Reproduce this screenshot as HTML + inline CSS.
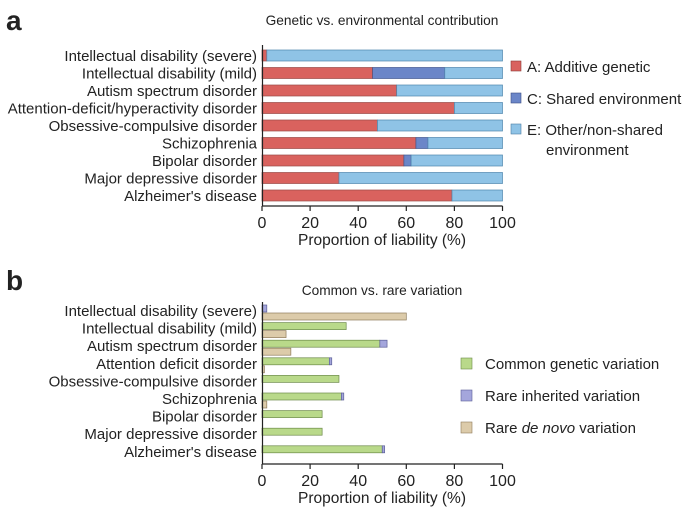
<!DOCTYPE html>
<html><head><meta charset="utf-8"><style>
body{margin:0;background:#fff}
svg text{font-family:"Liberation Sans",Arial,sans-serif;fill:#222}
</style></head><body>
<svg id="c" width="685" height="514" xmlns="http://www.w3.org/2000/svg">
<text x="6" y="30" font-size="28" font-weight="bold">a</text>
<text x="382" y="25" font-size="13.7" text-anchor="middle">Genetic vs. environmental contribution</text>
<text x="6" y="290" font-size="28" font-weight="bold">b</text>
<text x="382" y="295" font-size="13.7" text-anchor="middle">Common vs. rare variation</text>
<g id="ga"></g><g id="gb"></g>
<g>
<rect x="511" y="61" width="10" height="10" fill="#d9625e" stroke="#8a3a38" stroke-width="0.6"/>
<text x="527" y="72" font-size="15">A: Additive genetic</text>
<rect x="511" y="93" width="10" height="10" fill="#6b86c8" stroke="#3c4f85" stroke-width="0.6"/>
<text x="527" y="104" font-size="15">C: Shared environment</text>
<rect x="511" y="124" width="10" height="10" fill="#8fc3e6" stroke="#4d7fa3" stroke-width="0.6"/>
<text x="527" y="135" font-size="15">E: Other/non-shared</text>
<text x="546" y="155" font-size="15">environment</text>
</g>
<g>
<rect x="461" y="358" width="11" height="11" fill="#b9d98a" stroke="#6d8a4a" stroke-width="0.6"/>
<text x="485" y="369" font-size="15">Common genetic variation</text>
<rect x="461" y="390" width="11" height="11" fill="#a4a6dc" stroke="#5d6098" stroke-width="0.6"/>
<text x="485" y="401" font-size="15">Rare inherited variation</text>
<rect x="461" y="422" width="11" height="11" fill="#dccbaa" stroke="#8f7c5c" stroke-width="0.6"/>
<text x="485" y="433" font-size="15">Rare <tspan font-style="italic">de novo</tspan> variation</text>
</g>
</svg>
<script>
const catsA=["Intellectual disability (severe)","Intellectual disability (mild)","Autism spectrum disorder","Attention-deficit/hyperactivity disorder","Obsessive-compulsive disorder","Schizophrenia","Bipolar disorder","Major depressive disorder","Alzheimer's disease"];
const addA=[2,46,56,80,48,64,59,32,79];
const sharedA=[0,30,0,0,0,5,3,0,0];
const catsB=["Intellectual disability (severe)","Intellectual disability (mild)","Autism spectrum disorder","Attention deficit disorder","Obsessive-compulsive disorder","Schizophrenia","Bipolar disorder","Major depressive disorder","Alzheimer's disease"];
const commonB=[0,35,49,28,32,33,25,25,50];
const inheritedB=[2,0,3,1,0,1,0,0,1];
const denovoB=[60,10,12,1,0,2,0,0,0];
const ticks=[0,20,40,60,80,100];
const NS="http://www.w3.org/2000/svg";
function mk(p,t,a){const e=document.createElementNS(NS,t);for(const k in a)e.setAttribute(k,a[k]);p.appendChild(e);return e;}
const x=v=>262+v*2.405;
function axis(g,yAx,top,name){
 const l=mk(g,"line",{x1:262.5,y1:top,x2:262.5,y2:yAx,stroke:"#222","stroke-width":1.2});
 
 
 const a=mk(g,"line",{x1:262,y1:yAx,x2:x(100),y2:yAx,stroke:"#222","stroke-width":1.2});
 
 
 ticks.forEach(t=>{
  mk(g,"line",{x1:x(t),y1:yAx,x2:x(t),y2:yAx+5,stroke:"#222","stroke-width":1.2});
  const tx=mk(g,"text",{x:x(t),y:yAx+22,"font-size":16,"text-anchor":"middle"});tx.textContent=t;
  
  
 });
 const tt=mk(g,"text",{x:382,y:yAx+39,"font-size":15.5,"text-anchor":"middle"});tt.textContent="Proportion of liability (%)";
 
 
}
function bar(g,v0,v1,y,h,fill,st,name){
 if(v1-v0<=0)return;
 const r=mk(g,"rect",{x:x(v0),y:y,width:x(v1)-x(v0),height:h,fill:fill,stroke:st,"stroke-width":0.7});
 
 
}
const ga=document.getElementById("ga");
catsA.forEach((c,i)=>{
 const y=50+i*17.5;
 const t=mk(ga,"text",{x:257,y:y+11,"font-size":15,"text-anchor":"end"});t.textContent=c;
 
 
 bar(ga,0,addA[i],y,11,"#d9625e","#9a4a47","bar-additive");
 bar(ga,addA[i],addA[i]+sharedA[i],y,11,"#6b86c8","#42578f","bar-shared");
 bar(ga,addA[i]+sharedA[i],100,y,11,"#8fc3e6","#4f86ad","bar-nonshared");
});
axis(ga,206,45,"panel-a");
const gb=document.getElementById("gb");
catsB.forEach((c,i)=>{
 const y=305+i*17.6;
 const t=mk(gb,"text",{x:257,y:y+11,"font-size":15,"text-anchor":"end"});t.textContent=c;
 
 
 bar(gb,0,commonB[i],y,7,"#b9d98a","#6d8a4a","bar-common");
 bar(gb,commonB[i],commonB[i]+inheritedB[i],y,7,"#a4a6dc","#5d6098","bar-inherited");
 bar(gb,0,denovoB[i],y+8,7,"#dccbaa","#8f7c5c","bar-denovo");
});
axis(gb,464,302,"panel-b");
</script>
</body></html>
